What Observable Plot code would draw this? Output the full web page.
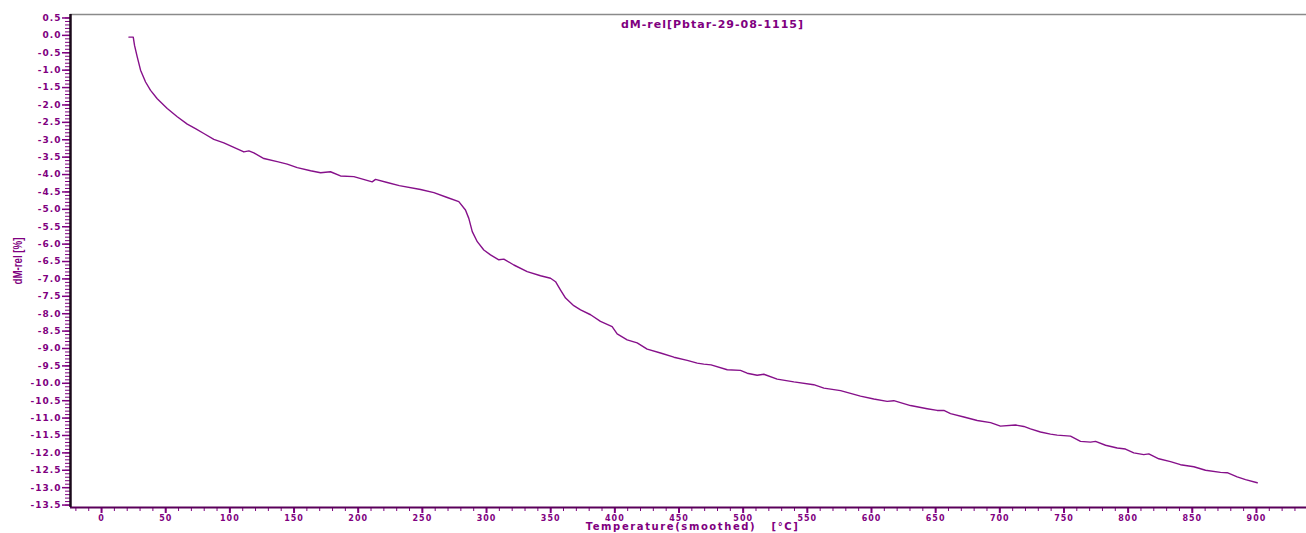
<!DOCTYPE html>
<html>
<head>
<meta charset="utf-8">
<script src="https://cdn.jsdelivr.net/npm/d3@7"></script>
<script src="https://cdn.jsdelivr.net/npm/@observablehq/plot@0.6"></script>
<style>
  html, body { margin: 0; padding: 0; background: #fff; }
  #chart svg { display: block; }
</style>
</head>
<body>
<div id="chart"></div>
<script>
const title = "dM-rel[Pbtar-29-08-1115]";
const xLabel = "Temperature(smoothed)\u00a0\u00a0\u00a0[°C]";
const yLabel = "dM-rel [%]";

const temperature = [21.3, 24.7, 25.7, 27.8, 30.4, 34.3, 38.2, 43.4, 51.2, 59.0, 66.8, 73.2, 79.7, 87.5, 95.3, 103.1, 110.9, 114.8, 118.7, 126.5, 136.9, 144.7, 152.5, 162.9, 170.7, 178.4, 186.2, 196.6, 210.9, 213.5, 222.6, 232.0, 248.6, 259.0, 269.4, 278.4, 283.6, 286.2, 288.9, 292.8, 297.9, 303.1, 309.6, 313.5, 321.3, 331.7, 342.1, 349.9, 353.8, 357.7, 361.6, 368.0, 373.3, 381.1, 388.8, 397.9, 401.8, 409.6, 417.4, 425.2, 435.6, 446.0, 456.4, 464.2, 469.3, 475.0, 487.6, 497.9, 503.1, 510.9, 516.1, 526.5, 539.5, 555.0, 562.9, 575.9, 591.4, 601.8, 612.2, 617.4, 630.4, 643.4, 651.2, 656.4, 661.6, 672.0, 682.4, 692.8, 700.5, 712.2, 718.7, 723.9, 731.7, 739.5, 744.7, 755.1, 762.9, 770.7, 774.6, 782.4, 791.5, 797.9, 804.4, 812.2, 816.1, 823.9, 833.0, 840.8, 851.2, 860.3, 872.0, 877.2, 885.0, 891.5, 900.6];
const dMrel = [-0.05, -0.05, -0.29, -0.62, -1.00, -1.34, -1.58, -1.82, -2.10, -2.34, -2.55, -2.68, -2.82, -2.99, -3.09, -3.22, -3.35, -3.32, -3.38, -3.54, -3.63, -3.70, -3.80, -3.89, -3.95, -3.92, -4.04, -4.06, -4.21, -4.14, -4.23, -4.32, -4.43, -4.52, -4.66, -4.78, -5.02, -5.26, -5.64, -5.93, -6.17, -6.31, -6.45, -6.43, -6.60, -6.79, -6.91, -6.98, -7.08, -7.32, -7.55, -7.77, -7.89, -8.03, -8.22, -8.37, -8.58, -8.75, -8.84, -9.02, -9.13, -9.25, -9.34, -9.42, -9.45, -9.47, -9.61, -9.63, -9.71, -9.77, -9.74, -9.88, -9.96, -10.04, -10.14, -10.21, -10.37, -10.45, -10.52, -10.50, -10.64, -10.73, -10.78, -10.78, -10.87, -10.97, -11.07, -11.13, -11.23, -11.20, -11.24, -11.31, -11.40, -11.46, -11.49, -11.52, -11.67, -11.69, -11.67, -11.78, -11.86, -11.89, -12.00, -12.05, -12.03, -12.17, -12.25, -12.34, -12.40, -12.50, -12.56, -12.57, -12.69, -12.77, -12.86];

const xMajorTicks = d3.range(0, 901, 50);
const xMinorTicks = d3.range(-20, 931, 10);
const yMajorTicks = d3.range(-13.5, 0.51, 0.5);
const yMinorTicks = d3.range(-135, 6, 1).map(v => v / 10);

const xDomain = [-24.2, 939];
const yDomain = [-13.57, 0.6];

const data = temperature.map((t, i) => ({t, v: dMrel[i]}));
const purple = "#800080";
const font = "DejaVu Sans, Verdana, sans-serif";

const chart = Plot.plot({
  width: 1306,
  height: 533,
  marginLeft: 70,
  marginRight: 0,
  marginTop: 14,
  marginBottom: 26,
  style: {fontFamily: font, fontWeight: "bold", fontSize: "9px", color: purple, background: "#fff", letterSpacing: "1px"},
  x: {domain: xDomain, label: null},
  y: {domain: yDomain, label: null},
  marks: [
    Plot.ruleY([yDomain[1]], {stroke: "#8a8a8a", strokeWidth: 1.5}),
    Plot.axisY({ticks: yMinorTicks, tickSize: 5, text: null, stroke: purple, strokeWidth: 1, label: null}),
    Plot.axisY({ticks: yMajorTicks, tickSize: 8, tickPadding: 1, tickFormat: d => d.toFixed(1), stroke: purple, fill: purple, strokeWidth: 1.5, label: null}),
    Plot.axisX({ticks: xMinorTicks, tickSize: 4, text: null, stroke: purple, label: null}),
    Plot.axisX({ticks: xMajorTicks, tickSize: 6, tickPadding: 2, fontSize: 8, tickFormat: d => String(d), stroke: purple, fill: purple, strokeWidth: 2, label: null}),
    Plot.ruleY([yDomain[0]], {stroke: "#5a005a", strokeWidth: 2}),
    Plot.ruleX([xDomain[0]], {stroke: "#1a0a1a", strokeWidth: 2.5}),
    Plot.line(data, {x: "t", y: "v", stroke: "#86108a", strokeWidth: 1.4}),
    Plot.text([title], {frameAnchor: "top", dx: 24, dy: 10, fill: purple, fontSize: 11, fontWeight: "bold", lineAnchor: "middle"}),
    Plot.text([xLabel], {frameAnchor: "bottom", dx: 4, dy: 19, fill: purple, fontSize: 10, fontWeight: "bold", lineAnchor: "middle"}),
    Plot.text([yLabel], {frameAnchor: "left", dx: -52, rotate: -90, textAnchor: "middle", fill: purple, fontSize: 12, fontWeight: "bold", lineAnchor: "middle"})
  ]
});

const svg = d3.select(chart);
svg.selectAll("text").filter(function() { return this.textContent === title; })
  .style("letter-spacing", "1px");
svg.selectAll("text").filter(function() { return this.textContent === xLabel; })
  .style("letter-spacing", "1.6px");
svg.selectAll("text").filter(function() { return this.textContent === yLabel; })
  .style("letter-spacing", "0px")
  .style("font-family", "'Liberation Sans', Arial, sans-serif")
  .attr("textLength", 47).attr("lengthAdjust", "spacingAndGlyphs");

document.getElementById("chart").appendChild(chart);
</script>
</body>
</html>
